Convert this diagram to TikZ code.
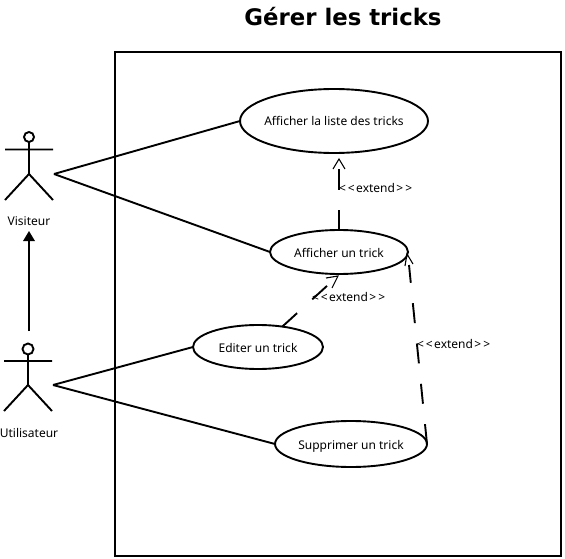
\documentclass[tikz,border=0pt]{standalone}
\usepackage{fontspec}
\setmainfont{Noto Sans}
\newfontfamily\titlefont{DejaVu Sans}
\usetikzlibrary{shapes.geometric}
\newcommand{\xtd}{<\hspace{2pt}<\hspace{1.5pt}extend\hspace{1.5pt}>\hspace{2pt}>}
\newcommand{\uctext}[1]{\makebox[0pt]{\raisebox{-5pt}[0pt][0pt]{#1}}}
\tikzset{
  x=1pt,y=-1pt,
  usecase/.style={draw,ellipse,line width=1.9pt,inner sep=0pt,outer sep=0pt,font=\fontsize{12}{14}\selectfont},
  actorline/.style={line width=1.9pt},
  assoc/.style={line width=1.9pt},
  lbl/.style={inner sep=0pt,outer sep=0pt,font=\fontsize{12}{14}\selectfont},
  extendline/.style={line width=1.9pt,dash pattern=on 20pt off 20.5pt},
  opentip/.style={line width=1.1pt},
}
\begin{document}
\begin{tikzpicture}
\useasboundingbox (0,0) rectangle (565,559);
\node[inner sep=0pt,font=\titlefont\bfseries\fontsize{22.8}{26}\selectfont] (title) at (343,17) {Gérer les tricks};
\draw[line width=1.9pt] (115,52) rectangle (561,556);

\node[usecase,minimum width=188pt,minimum height=64pt] (a) at (334,121) {\uctext{Afficher la liste des tricks}};
\node[usecase,minimum width=138pt,minimum height=44pt] (b) at (339,252) {\uctext{Afficher un trick}};
\node[usecase,minimum width=130pt,minimum height=44pt] (c) at (258,347) {\uctext{Editer un trick}};
\node[usecase,minimum width=152pt,minimum height=46pt] (d) at (351,444) {\uctext{Supprimer un trick}};

% actors
\draw[actorline] (29,137) circle (5);
\draw[actorline] (29,142) -- (29,174) (5,149.5) -- (53,149.5) (5,200) -- (29,174) -- (53,200);
\draw[actorline] (28,349) circle (5.5);
\draw[actorline] (28,354.5) -- (28,385) (4,361) -- (52,361) (4,411) -- (28,385) -- (52,411);
\node[lbl] (vis) at (29,221) {Visiteur};
\node[lbl] (uti) at (29,432.5) {Utilisateur};
\coordinate (vhand) at (54,174);
\coordinate (uhand) at (53,385);
\coordinate (uhead) at (29,331);
\coordinate (gbase) at (29,241);

\draw[assoc] (vhand) -- (a.west);
\draw[assoc] (vhand) -- (b.west);
\draw[assoc] (uhand) -- (c.west);
\draw[assoc] (uhand) -- (d.west);

% generalisation
\draw[assoc] (uhead) -- (gbase);
\fill (29,231) -- (35,241) -- (23,241) -- cycle;

% extends
\coordinate (t1) at (339,159);
\draw[extendline] (b.north) -- (339,169);
\draw[opentip] (333,169) -- (t1) -- (345,169);

\coordinate (t2) at (338,276);
\draw[extendline] (c.40) -- (328,285);
\draw[opentip] (326,278) -- (t2) -- (332,288);

\coordinate (t3) at (407,254);
\draw[extendline] (d.east) -- (409,265);
\draw[opentip] (405,266) -- (t3) -- (413,264);

\node[lbl,anchor=west] (e1) at (339,188.5) {\xtd};
\node[lbl,anchor=west] (e2) at (312,296.5) {\xtd};
\node[lbl,anchor=west] (e3) at (417,343.5) {\xtd};
\end{tikzpicture}
\end{document}
